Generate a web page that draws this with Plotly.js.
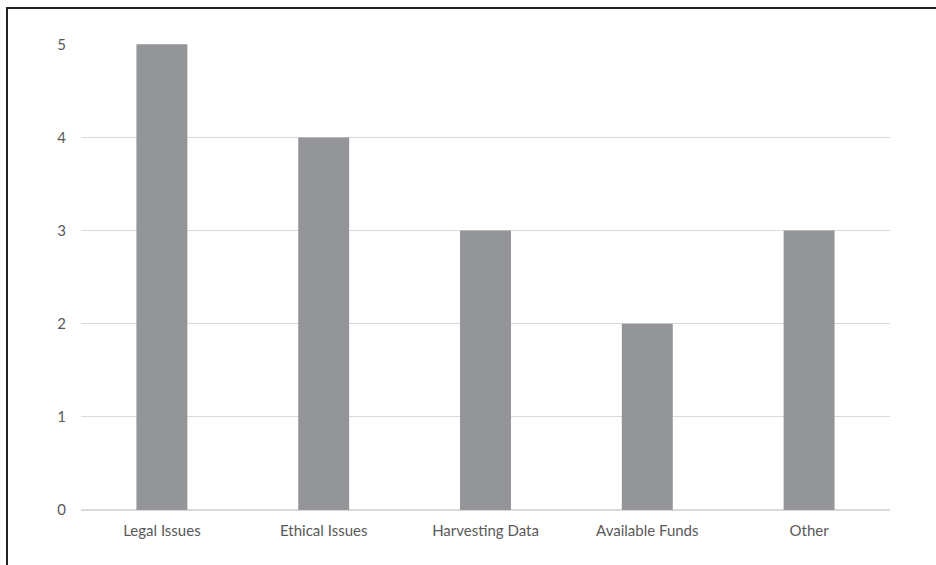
<!DOCTYPE html>
<html>
<head>
<meta charset="utf-8">
<script src="https://cdn.plot.ly/plotly-3.0.1.min.js"></script>
<style>
html,body{margin:0;padding:0;background:#fff;}
#wrap{position:relative;width:936px;height:565px;}
#chart{position:absolute;left:0;top:0;width:936px;height:565px;}
#frame{position:absolute;left:6px;top:7px;width:930px;height:558px;border-top:2px solid #222;border-left:2px solid #222;pointer-events:none;}
</style>
</head>
<body>
<div id="wrap"><div id="chart"></div><div id="frame"></div></div>
<script>
const categories = ["Legal Issues", "Ethical Issues", "Harvesting Data", "Available Funds", "Other"];
const values = [5, 4, 3, 2, 3];
const yTicks = [0, 1, 2, 3, 4, 5];

const trace = {
  type: 'bar',
  x: categories,
  y: values,
  marker: {color: '#939598'},
  hoverinfo: 'x+y'
};

const layout = {
  width: 936,
  height: 565,
  margin: {l: 81, r: 46, t: 44, b: 55},
  paper_bgcolor: '#ffffff',
  plot_bgcolor: '#ffffff',
  bargap: 0.685,
  showlegend: false,
  font: {family: 'Lato, Open Sans, sans-serif', size: 15, color: '#595959'},
  xaxis: {
    showgrid: false,
    showline: false,
    zeroline: false,
    ticks: '',
    ticklabelstandoff: 10,
    tickfont: {size: 15, color: '#595959'},
    fixedrange: true
  },
  yaxis: {
    range: [0, 5.003],
    tickvals: yTicks,
    ticktext: yTicks.map(String),
    showgrid: true,
    gridcolor: '#d9d9d9',
    gridwidth: 1,
    zeroline: true,
    zerolinecolor: '#d9d9d9',
    zerolinewidth: 2,
    showline: false,
    ticks: '',
    ticklabelstandoff: 14,
    tickfont: {size: 15, color: '#595959'},
    fixedrange: true
  }
};

Plotly.newPlot('chart', [trace], layout, {displayModeBar: false, staticPlot: true});
</script>
</body>
</html>
